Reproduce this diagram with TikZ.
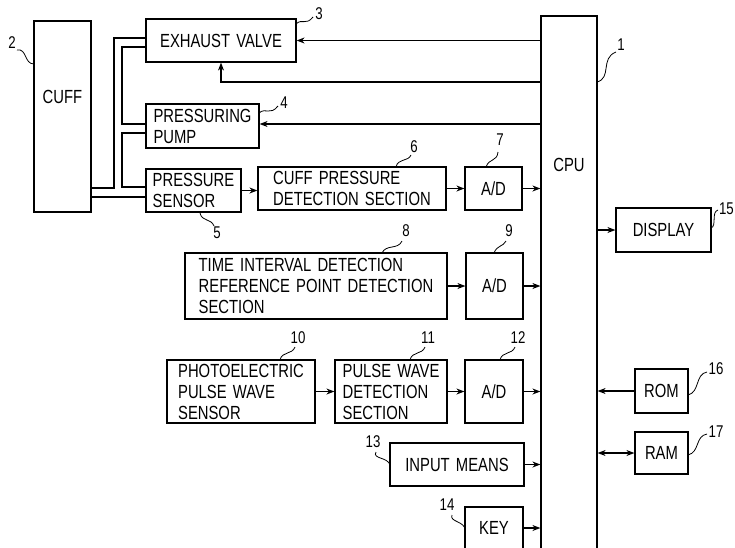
\documentclass[tikz,border=0pt]{standalone}
\usepackage{fontspec}
\setmainfont[FakeStretch=0.78,WordSpace=1.5]{Liberation Sans}
\usetikzlibrary{arrows.meta}
\begin{document}
\begin{tikzpicture}[x=1pt,y=-1pt,
  box/.style={draw, line width=1.2pt, inner sep=0pt, align=left, font=\fontsize{19}{21}\selectfont},
  txt/.style={inner sep=0pt, font=\fontsize{19}{21}\selectfont},
  lbl/.style={inner sep=0pt, font=\fontsize{17}{18}\selectfont},
  arr/.style={line width=1.2pt, -{Stealth[length=8pt,width=6pt]}},
  darr/.style={line width=1.2pt, {Stealth[length=8pt,width=6pt]}-{Stealth[length=8pt,width=6pt]}},
  pipe/.style={line width=1.2pt},
  lead/.style={line width=0.8pt}]
\clip (0,0) rectangle (735,547);
\fill[white] (0,0) rectangle (735,547);
% boxes
\node[box, minimum width=57, minimum height=191] (cuff) at (62.5,116.5) {};
\node[txt] (cufftext) at (62.5,97) {CUFF};
\node[box, minimum width=150, minimum height=43] (ev) at (221,40.5) {EXHAUST VALVE};
\node[box, minimum width=113, minimum height=44] (pump) at (202.5,126) {PRESSURING\\PUMP};
\node[box, minimum width=95, minimum height=43] (sensor) at (193.5,190.5) {PRESSURE\\SENSOR};
\node[box, minimum width=188, minimum height=43] (cpd) at (352,188.5) {CUFF PRESSURE\\DETECTION SECTION};
\node[box, minimum width=57, minimum height=43] (ad7) at (493.5,188.5) {A/D};
\node[box, minimum width=56, minimum height=544] (cpu) at (569,288) {};
\node[txt] (cputext) at (569,165) {CPU};
\node[box, minimum width=95, minimum height=44] (disp) at (663.5,230) {DISPLAY};
\node[box, minimum width=262, minimum height=66] (ti) at (316,286) {TIME INTERVAL DETECTION\\REFERENCE POINT DETECTION\\SECTION};
\node[box, minimum width=57, minimum height=66] (ad9) at (494.5,286) {A/D};
\node[box, minimum width=148, minimum height=63] (pe) at (241,391.5) {PHOTOELECTRIC\\PULSE WAVE\\SENSOR};
\node[box, minimum width=112, minimum height=63] (pw) at (391,391.5) {PULSE WAVE\\DETECTION\\SECTION};
\node[box, minimum width=58, minimum height=63] (ad12) at (494,391.5) {A/D};
\node[box, minimum width=134, minimum height=43] (inp) at (457,464.5) {INPUT MEANS};
\node[box, minimum width=58, minimum height=42] (key) at (494,528) {KEY};
\node[box, minimum width=53, minimum height=44] (rom) at (661.5,391) {ROM};
\node[box, minimum width=53, minimum height=42] (ram) at (661.5,453) {RAM};
% pipes
\draw[pipe] (cuff.east |- 0,188) -- (114,188) -- (114,38) -- (ev.west |- 0,38);
\draw[pipe] (ev.west |- 0,47) -- (122,47) -- (122,124) -- (pump.west |- 0,124);
\draw[pipe] (pump.west |- 0,133) -- (122,133) -- (122,187) -- (sensor.west |- 0,187);
\draw[pipe] (cuff.east |- 0,197) -- (sensor.west |- 0,197);
% signal arrows
\draw[arr] (cpu.west |- ev.east) -- (ev.east);
\coordinate (evret) at (cpu.west |- 0,82);
\draw[arr] (evret) -| (ev.south);
\draw[arr] (cpu.west |- 0,124) -- (pump.east |- 0,124);
\draw[arr] (sensor.east) -- (cpd.west |- sensor.east);
\draw[arr] (cpd.east) -- (ad7.west);
\draw[arr] (ad7.east) -- (cpu.west |- ad7.east);
\draw[arr] (cpu.east |- disp.west) -- (disp.west);
\draw[arr] (ti.east) -- (ad9.west |- ti.east);
\draw[arr] (ad9.east) -- (cpu.west |- ad9.east);
\draw[arr] (pe.east) -- (pw.west);
\draw[arr] (pw.east) -- (ad12.west);
\draw[arr] (ad12.east) -- (cpu.west |- ad12.east);
\draw[arr] (inp.east) -- (cpu.west |- inp.east);
\draw[arr] (key.east) -- (cpu.west |- key.east);
\draw[arr] (rom.west) -- (cpu.east |- rom.west);
\draw[darr] (cpu.east |- ram.west) -- (ram.west);
% reference labels
\node[lbl] (l1) at (621,45) {1};
\node[lbl] (l2) at (12,43) {2};
\node[lbl] (l3) at (319,14) {3};
\node[lbl] (l4) at (284,103) {4};
\node[lbl] (l5) at (217,233) {5};
\node[lbl] (l6) at (414,147) {6};
\node[lbl] (l7) at (500,140) {7};
\node[lbl] (l8) at (406,231) {8};
\node[lbl] (l9) at (509,231) {9};
\node[lbl] (l10) at (298,338) {10};
\node[lbl] (l11) at (428,338) {11};
\node[lbl] (l12) at (518,338) {12};
\node[lbl] (l13) at (373,442) {13};
\node[lbl] (l14) at (447,505) {14};
\node[lbl, anchor=east] (l15) at (734,209) {15};
\node[lbl] (l16) at (716,369) {16};
\node[lbl] (l17) at (716,432) {17};
% leaders
\draw[lead] (17,50) .. controls (27,48) and (24,64) .. (34,64);
\draw[lead] (296,24) .. controls (302,18) and (306,26) .. (313,17);
\draw[lead] (259,113) .. controls (266,107) and (270,116) .. (278,106);
\draw[lead] (200,213) .. controls (202,222) and (211,218) .. (214,226);
\draw[lead] (396,167) .. controls (398,158) and (408,162) .. (411,155);
\draw[lead] (486,167) .. controls (489,158) and (497,162) .. (498,152);
\draw[lead] (597,82) .. controls (612,78) and (600,58) .. (616,52);
\draw[lead] (711,228) .. controls (717,226) and (711,212) .. (718,210);
\draw[lead] (382,253) .. controls (386,244) and (398,250) .. (402,241);
\draw[lead] (494,253) .. controls (497,245) and (503,247) .. (506,241);
\draw[lead] (280,360) .. controls (282,351) and (292,355) .. (295,347);
\draw[lead] (410,360) .. controls (412,351) and (422,355) .. (425,347);
\draw[lead] (500,360) .. controls (502,351) and (512,355) .. (515,347);
\draw[lead] (376,452) .. controls (372,459) and (388,457) .. (390,465);
\draw[lead] (452,515) .. controls (449,522) and (465,521) .. (465,530);
\draw[lead] (688,395) .. controls (700,392) and (695,374) .. (707,372);
\draw[lead] (688,455) .. controls (700,452) and (695,436) .. (707,434);
\end{tikzpicture}
\end{document}
